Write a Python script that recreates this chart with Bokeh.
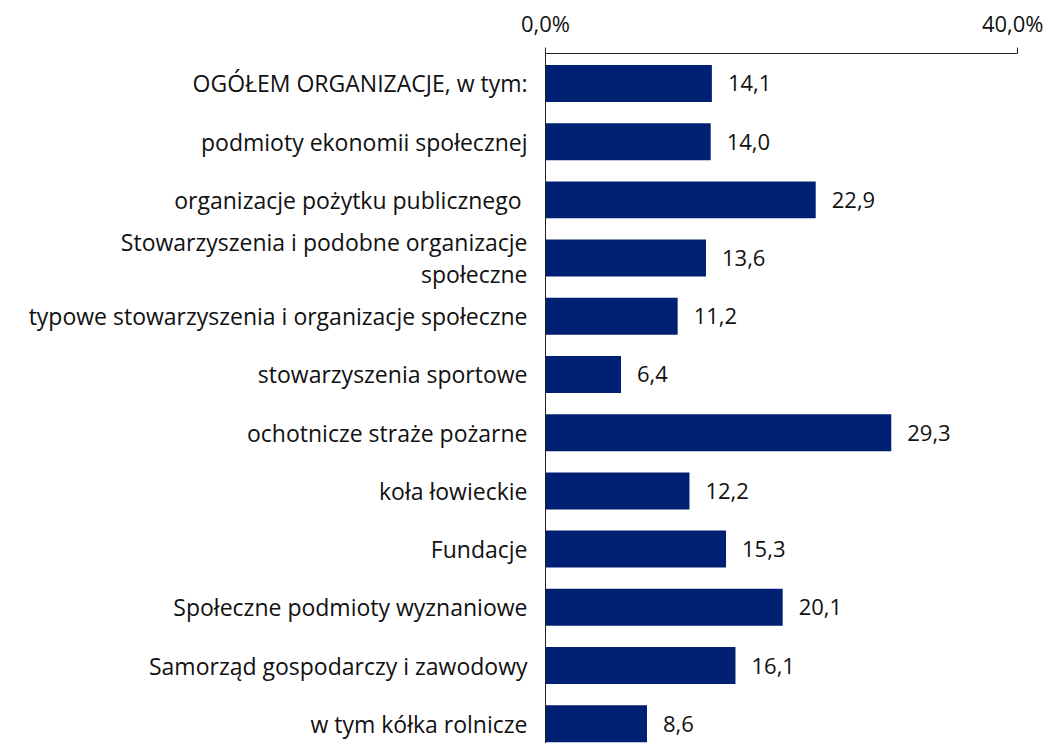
from bokeh.plotting import figure
from bokeh.models import Range1d, FixedTicker, ColumnDataSource
from bokeh.embed import file_html
from bokeh.resources import INLINE
from bokeh.core.properties import value

categories = [
    "OGÓŁEM ORGANIZACJE, w tym:",
    "podmioty ekonomii społecznej",
    "organizacje pożytku publicznego\u00a0",
    "Stowarzyszenia i podobne organizacje\nspołeczne",
    "typowe stowarzyszenia i organizacje społeczne",
    "stowarzyszenia sportowe",
    "ochotnicze straże pożarne",
    "koła łowieckie",
    "Fundacje",
    "Społeczne podmioty wyznaniowe",
    "Samorząd gospodarczy i zawodowy",
    "w tym kółka rolnicze",
]
values = [14.1, 14.0, 22.9, 13.6, 11.2, 6.4, 29.3, 12.2, 15.3, 20.1, 16.1, 8.6]
x_ticks = [0, 40]
x_tick_labels = {0: "0,0%", 40: "40,0%"}

FONT = "Open Sans"
FS = "23px"
BAR = "#002073"

idx = list(range(len(categories)))
src = ColumnDataSource(dict(
    y=idx, v=values,
    lab=[f"{v:.1f}".replace(".", ",") for v in values],
))

p = figure(width=1043, height=743, output_backend="svg", toolbar_location=None,
           x_range=Range1d(0, 40), y_range=Range1d(11.34, -0.515),
           x_axis_location="above",
           min_border_left=545, min_border_right=26, min_border_top=53, min_border_bottom=0)
p.outline_line_color = None
p.xgrid.visible = False
p.ygrid.visible = False
p.background_fill_color = "white"

p.hbar(y="y", right="v", left=0, height=0.635, source=src, color=BAR, line_color=None)
p.text(x="v", y="y", text="lab", source=src, x_offset=16, text_baseline="middle",
       text_align="left", text_font=value(FONT), text_font_size="22px", text_color="#111111")

xa = p.xaxis[0]
xa.ticker = FixedTicker(ticks=x_ticks)
xa.major_label_overrides = x_tick_labels
xa.major_tick_out = 6
xa.major_tick_in = 0
xa.minor_tick_out = 0
xa.minor_tick_in = 0
xa.axis_line_color = "#222222"
xa.major_tick_line_color = "#222222"
xa.major_label_text_font = FONT
xa.major_label_text_font_size = "22px"
xa.major_label_text_color = "#111111"
xa.major_label_standoff = 10

ya = p.yaxis[0]
ya.ticker = FixedTicker(ticks=idx)
ya.major_label_overrides = {i: c for i, c in enumerate(categories)}
ya.major_tick_out = 0
ya.major_tick_in = 0
ya.minor_tick_out = 0
ya.minor_tick_in = 0
ya.axis_line_color = "#222222"
ya.major_label_text_font = FONT
ya.major_label_text_font_size = FS
ya.major_label_text_color = "#111111"
ya.major_label_text_line_height = 1.0
ya.major_label_standoff = 18

open("out.html", "w").write(file_html(p, INLINE))
